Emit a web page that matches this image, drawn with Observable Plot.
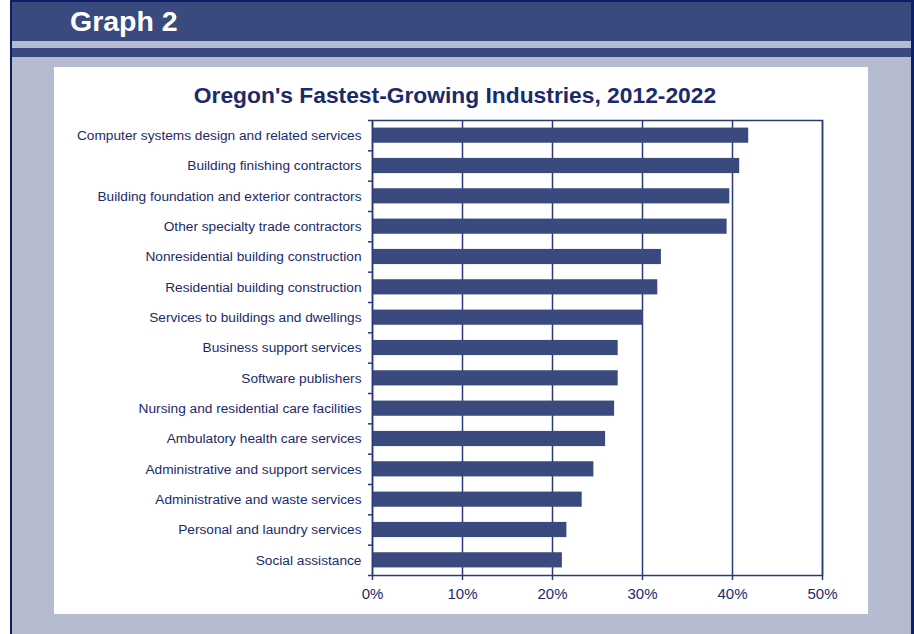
<!DOCTYPE html>
<html><head><meta charset="utf-8">
<script src="https://cdn.jsdelivr.net/npm/d3@7"></script>
<script src="https://cdn.jsdelivr.net/npm/@observablehq/plot@0.6"></script>
<style>
html,body{margin:0;padding:0;background:#fff;width:914px;height:634px;overflow:hidden;font-family:Arial,"Liberation Sans",sans-serif;}
.abs{position:absolute;}
#outer{left:10px;top:0;width:904px;height:634px;background:#b6bcd0;box-sizing:border-box;border-left:2px solid #0e1f66;border-top:2px solid #0e1f66;border-right:3px solid #0e1f66;}
#hdr{left:12px;top:2px;width:899px;height:39px;background:#3b4a7e;}
#stripe{left:12px;top:48px;width:899px;height:9px;background:#3b4a7e;}
#gtitle{left:70px;top:3px;color:#fff;font-weight:bold;font-size:28.5px;line-height:36px;}
#panel{left:54px;top:67px;width:814px;height:547px;background:#fff;}
#ctitle{left:48px;top:80px;width:814px;text-align:center;color:#1b2a6b;font-weight:bold;font-size:22.8px;line-height:30px;}
#chart{left:54px;top:110px;}
</style></head>
<body>
<div id="outer" class="abs"></div>
<div id="hdr" class="abs"></div>
<div id="stripe" class="abs"></div>
<div id="gtitle" class="abs">Graph 2</div>
<div id="panel" class="abs"></div>
<div id="ctitle" class="abs">Oregon's Fastest-Growing Industries, 2012-2022</div>
<div id="chart" class="abs"></div>
<script>
const industries = [
  "Computer systems design and related services",
  "Building finishing contractors",
  "Building foundation and exterior contractors",
  "Other specialty trade contractors",
  "Nonresidential building construction",
  "Residential building construction",
  "Services to buildings and dwellings",
  "Business support services",
  "Software publishers",
  "Nursing and residential care facilities",
  "Ambulatory health care services",
  "Administrative and support services",
  "Administrative and waste services",
  "Personal and laundry services",
  "Social assistance"
];
const growth = [41.8, 40.8, 39.7, 39.4, 32.1, 31.7, 30.1, 27.3, 27.3, 26.9, 25.9, 24.6, 23.3, 21.6, 21.1];
const xTicks = [0, 10, 20, 30, 40, 50];

const navy = "#1b2a6b";
const lineColor = "#2a3a78";
const barColor = "#3b4a7e";
const data = industries.map((industry, i) => ({industry, growth: growth[i]}));

const W = 814, H = 504, mT = 10, mB = 39;
const bw = (H - mT - mB) / industries.length;

const chart = Plot.plot({
  width: W, height: H,
  marginLeft: 318, marginRight: 46, marginTop: mT, marginBottom: mB,
  style: {fontFamily: "Arial, 'Liberation Sans', sans-serif", color: navy, background: "transparent", overflow: "visible"},
  x: {domain: [0, 50]},
  y: {domain: industries, paddingInner: 0.5, paddingOuter: 0.25, round: false},
  marks: [
    Plot.gridX(xTicks, {stroke: lineColor, strokeOpacity: 1, strokeWidth: 1.5}),
    Plot.barX(data, {x: "growth", y: "industry", fill: barColor}),
    Plot.frame({stroke: lineColor, strokeWidth: 1.5}),
    Plot.axisX(xTicks, {tickFormat: d => d + "%", tickSize: 5, tickPadding: 8, fontSize: 15, stroke: lineColor, strokeWidth: 1.5, label: null}),
    Plot.axisY({tickSize: 0, tickPadding: 11, fontSize: 13.7, label: null}),
    Plot.axisY(industries, {tickSize: 4, tickFormat: () => "", dy: -bw / 2, stroke: lineColor, strokeWidth: 1.5, label: null}),
    Plot.axisY([industries[industries.length - 1]], {tickSize: 4, tickFormat: () => "", dy: bw / 2, stroke: lineColor, strokeWidth: 1.5, label: null})
  ]
});
document.getElementById("chart").appendChild(chart);
</script>
</body></html>
